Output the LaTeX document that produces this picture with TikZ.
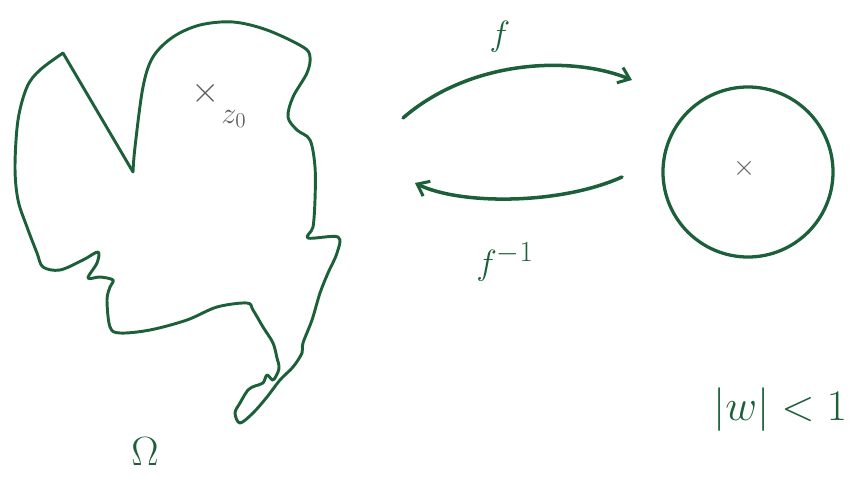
\documentclass[tikz,border=0pt]{standalone}
\usetikzlibrary{arrows.meta}
\definecolor{ink}{RGB}{28,96,58}
\definecolor{pencil}{RGB}{95,95,95}
\begin{document}
\begin{tikzpicture}[x=0.03cm,y=-0.03cm,line cap=round,line join=round,
	curve/.style={draw=ink,line width=2.5pt},
	map/.style={draw=ink,line width=3pt,-{Straight Barb[length=9pt,width=14pt,line width=2.6pt]}},
	lbl/.style={text=ink,font=\Huge,inner sep=0pt}]
	\useasboundingbox (0,0) rectangle (857,483);
	% the region Omega
	\draw[curve] (63,53) -- (133,172) -- plot[smooth,tension=0.55] coordinates {(133,172) (135,147) (143,87) (153,57) (173,37) (200,25) (233,22) (267,30) (303,47) (310,57) (307,73) (293,97) (288,117) (297,130) (310,140) (315,167) (315,200) (313,227) (308,238) (338,237) (337,253) (328,273) (320,293) (312,320) (303,343) (302,353) (293,367) (280,380) (267,397) (253,413) (240,423) (235,413) (240,403) (248,390) (255,386) (263,383) (267,375) (273,380) (278,372) (279,366) (277,358) (273,343) (263,327) (253,310) (247,303) (217,307) (187,320) (150,330) (120,333) (110,327) (107,300) (110,287) (113,280) (100,277) (88,278) (97,263) (98,252) (83,260) (60,270) (43,267) (37,253) (27,227) (18,200) (15,167) (18,120) (27,87) (40,70) (63,53)};
	\node[lbl,scale=1.4] (omega) at (145,452) {$\Omega$};
	\node[text=pencil,font=\LARGE,scale=1.8,inner sep=0pt] (zmark) at (206,93) {$\times$};
	\node[text=pencil,font=\LARGE,scale=1.5,inner sep=0pt] (zlbl) at (234,119) {$z_0$};
	% the unit disk
	\node[circle,draw=ink,line width=2.8pt,inner sep=0pt,minimum size=5.1cm] (disk) at (748,172) {};
	\node[text=pencil,font=\LARGE,scale=1.4,inner sep=0pt] (wmark) at (745,168) {$\times$};
	\node[lbl,scale=1.5] (cond) at (780,410) {$|w|<1$};
	% the two maps
	\coordinate (fa) at (403,118);
	\coordinate (fb) at (632,80);
	\coordinate (ga) at (622,177);
	\coordinate (gb) at (415,183);
	\draw[map] (fa) .. controls (470,60) and (570,55) .. (fb);
	\draw[map] (ga) .. controls (560,205) and (460,205) .. (gb);
	\node[lbl,scale=1.2] (f) at (500,37) {$f$};
	\node[lbl,scale=1.2] (finv) at (505,262) {$f^{-1}$};
\end{tikzpicture}
\end{document}
